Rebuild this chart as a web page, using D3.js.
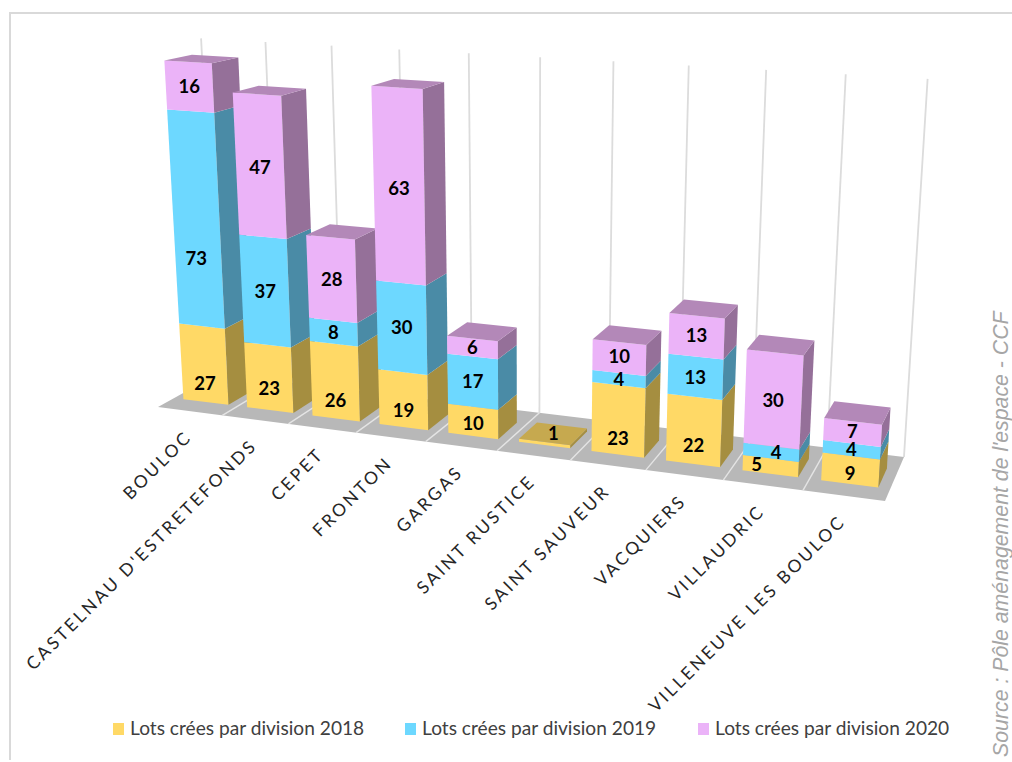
<!DOCTYPE html>
<html><head><meta charset="utf-8">
<script src="https://cdn.jsdelivr.net/npm/d3@7"></script>
<style>html,body{margin:0;padding:0;background:#fff}svg{display:block}</style>
</head><body><svg id="c" width="1012" height="762"></svg>
<script>
const categories=["BOULOC","CASTELNAU D'ESTRETEFONDS","CEPET","FRONTON","GARGAS","SAINT RUSTICE","SAINT SAUVEUR","VACQUIERS","VILLAUDRIC","VILLENEUVE LES BOULOC"];
const seriesNames=["Lots crées par division 2018","Lots crées par division 2019","Lots crées par division 2020"];
const values2018=[27,23,26,19,10,1,23,22,5,9];
const values2019=[73,37,8,30,17,0,4,13,4,4];
const values2020=[16,47,28,63,6,0,10,13,30,7];
const labelFrac2018=[.24,.34,.24,.31,.41,1,.23,.28,.62,.36];
const labelFrac2019=[.32,.5,.5,.5,.5,0,.42,.48,.5,.5];
const labelFrac2020=[.5,.49,.49,.49,.5,0,.53,.51,.49,.54];
const labelNudge2018=[0,0,0,0,0,0,0,0,-14,0];
const labelNudge2019=[-2,0,0,0,0,0,0,0,5,0];
const labelNudge2020=[0,0,0,0,0,0,0,0,0,0];
const axisMax=120;
const frontColors=["#FFD966","#6DD8FF","#EBB3F8"];
const sideColors=["#A58E40","#4A8BA6","#957099"];
const topColors=["#C6A94F","#4F9DBB","#B388B8"];

const svg=d3.select("#c");
const Q=[[158,407],[885,501],[904,457],[218,373.8]];
const VV=[527,6500],cz=-0.00046;
function homography(q){
  const [[x0,y0],[x1,y1],[x2,y2],[x3,y3]]=q;
  const dx1=x1-x2,dx2=x3-x2,sx=x0-x1+x2-x3,dy1=y1-y2,dy2=y3-y2,sy=y0-y1+y2-y3;
  const den=dx1*dy2-dx2*dy1;
  const g=(sx*dy2-dx2*sy)/den,h=(dx1*sy-sx*dy1)/den;
  return {a:x1-x0+g*x1,b:x3-x0+h*x3,c:x0,d:y1-y0+g*y1,e:y3-y0+h*y3,f:y0,g,h};
}
const H=homography(Q);
const xScale=d3.scaleBand().domain(categories).range([0,1]).paddingInner(0).paddingOuter(0);
const zScale=d3.scaleLinear().domain([0,axisMax]).range([0,axisMax]);
const barInset=0.145,dFront=0.26,dBack=0.69;
function P(u,d,val){
  const z=zScale(val);
  const w=H.g*u+H.h*d+1+cz*z;
  return [(H.a*u+H.b*d+H.c+cz*z*VV[0])/w,(H.d*u+H.e*d+H.f+cz*z*VV[1])/w];
}
const poly=(g,pts,fill)=>g.append("polygon").attr("points",pts.map(p=>p.map(v=>v.toFixed(2)).join(",")).join(" ")).attr("fill",fill);

svg.append("path").attr("d","M10,760V13H1012").attr("fill","none").attr("stroke","#D9D9D9").attr("stroke-width",2);

const seps=d3.range(categories.length+1).map(i=>i/categories.length);
seps.forEach(u=>{
  const a=P(u,1,0),b=P(u,1,axisMax);
  svg.append("line").attr("x1",a[0]).attr("y1",a[1]).attr("x2",b[0]).attr("y2",b[1]).attr("stroke","#DCDCDC").attr("stroke-width",1.8);
});
poly(svg,[P(0,0,0),P(1,0,0),P(1,1,0),P(0,1,0)],"#B8B8B8");
seps.slice(1,-1).forEach(u=>{
  const a=P(u,0,0),b=P(u,1,0);
  svg.append("line").attr("x1",a[0]).attr("y1",a[1]).attr("x2",b[0]).attr("y2",b[1]).attr("stroke","#E4E4E4").attr("stroke-width",1.4);
});

const seriesValues=[values2018,values2019,values2020];
const seriesFrac=[labelFrac2018,labelFrac2019,labelFrac2020];
const seriesNudge=[labelNudge2018,labelNudge2019,labelNudge2020];
const labels=[];
categories.forEach((cat,i)=>{
  const u0=xScale(cat)+xScale.bandwidth()*barInset,u1=xScale(cat)+xScale.bandwidth()*(1-barInset);
  const g=svg.append("g");
  let base=0;
  seriesValues.forEach((vals,s)=>{
    const v=vals[i]; if(!v) return;
    const t=base+v;
    poly(g,[P(u0,dFront,base),P(u1,dFront,base),P(u1,dFront,t),P(u0,dFront,t)],frontColors[s]);
    poly(g,[P(u1,dFront,base),P(u1,dBack,base),P(u1,dBack,t),P(u1,dFront,t)],sideColors[s]);
    const isTop=s===2||!seriesValues.slice(s+1).some(a=>a[i]);
    if(isTop) poly(g,[P(u0,dFront,t),P(u1,dFront,t),P(u1,dBack,t),P(u0,dBack,t)],topColors[s]);
    const frac=seriesFrac[s][i];
    const lp=v===1?P((u0+u1)/2,(dFront+dBack)/2,t):P((u0+u1)/2,dFront,base+v*frac);
    labels.push({p:[lp[0]+seriesNudge[s][i],lp[1]],t:v});
    base=t;
  });
});
svg.append("g").selectAll("text").data(labels).join("text")
  .attr("x",d=>d.p[0]).attr("y",d=>d.p[1]).attr("dy","0.35em").attr("text-anchor","middle")
  .attr("font-family","Lato").attr("font-weight",700).attr("font-size",18.5).attr("fill","#000").text(d=>d.t);

categories.forEach(cat=>{
  const u=xScale(cat)+xScale.bandwidth()/2;
  const p=P(u,0,0);
  svg.append("text").attr("transform",`translate(${p[0]+3},${p[1]+27}) rotate(-45)`)
    .attr("text-anchor","end").attr("font-family","Lato").attr("font-size",17.5).attr("letter-spacing",2.7)
    .attr("fill","#262626").text(cat);
});

const legendX=[113,405,698];
seriesNames.forEach((n,i)=>{
  svg.append("rect").attr("x",legendX[i]).attr("y",723).attr("width",11).attr("height",12).attr("fill",frontColors[i]);
  svg.append("text").attr("x",legendX[i]+17).attr("y",735).attr("font-family","Lato").attr("font-size",19.15).attr("fill","#404040").text(n);
});
svg.append("text").attr("transform","translate(1007.5,757) rotate(-90)").attr("font-family","Liberation Sans").attr("font-style","italic").attr("font-size",21.3).attr("fill","#A6A6A6").text("Source : Pôle aménagement de l'espace - CCF");
</script></body></html>
